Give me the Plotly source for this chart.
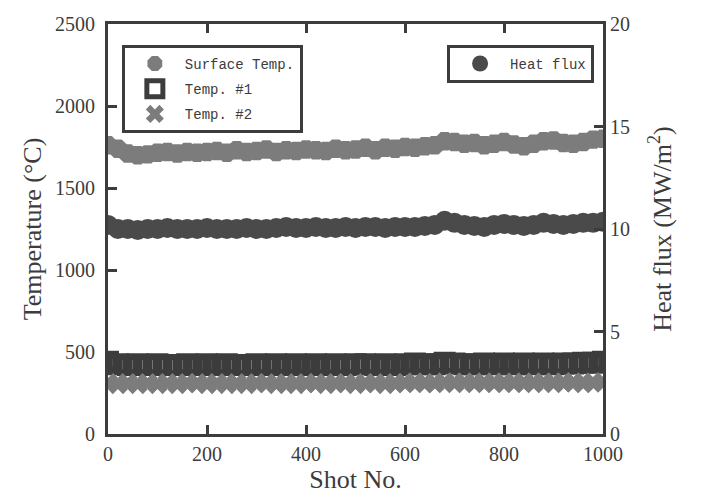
import plotly.graph_objects as go

shots = [0, 20, 40, 60, 80, 100, 120, 140, 160, 180, 200, 220, 240, 260, 280, 300,
         320, 340, 360, 380, 400, 420, 440, 460, 480, 500, 520, 540, 560, 580, 600,
         620, 640, 660, 680, 700, 720, 740, 760, 780, 800, 820, 840, 860, 880, 900,
         920, 940, 960, 980, 1000]

surface_temp = [1760, 1740, 1710, 1700, 1705, 1715, 1720, 1710, 1720, 1715, 1720,
                1725, 1715, 1730, 1720, 1725, 1735, 1720, 1730, 1725, 1735, 1730,
                1725, 1740, 1730, 1735, 1745, 1730, 1745, 1740, 1750, 1745, 1755,
                1760, 1785, 1780, 1770, 1775, 1760, 1770, 1780, 1765, 1755, 1770,
                1785, 1790, 1775, 1770, 1780, 1795, 1800]

temp1 = [440, 425, 420, 425, 420, 425, 420, 420, 425, 420, 425, 420, 425, 420,
         420, 425, 420, 425, 420, 425, 420, 425, 420, 425, 420, 425, 425, 420,
         425, 420, 425, 430, 425, 425, 435, 430, 425, 425, 430, 425, 430, 425,
         430, 425, 430, 425, 430, 430, 435, 435, 440]

temp2 = [310, 305, 310, 305, 310, 305, 310, 305, 310, 310, 305, 310, 305, 310,
         305, 310, 310, 305, 310, 305, 310, 310, 305, 310, 310, 305, 310, 310,
         305, 310, 310, 315, 310, 310, 315, 310, 315, 310, 315, 310, 315, 310,
         315, 310, 315, 310, 315, 315, 310, 315, 315]

heat_flux = [10.2, 10.0, 10.0, 9.95, 10.0, 10.0, 10.05, 10.0, 10.0, 10.0, 10.05,
             10.0, 10.0, 10.0, 10.05, 10.0, 10.0, 10.05, 10.1, 10.05, 10.05, 10.1,
             10.05, 10.05, 10.1, 10.05, 10.1, 10.1, 10.05, 10.1, 10.1, 10.1, 10.15,
             10.2, 10.4, 10.3, 10.2, 10.15, 10.1, 10.2, 10.25, 10.2, 10.15, 10.2,
             10.3, 10.25, 10.2, 10.25, 10.3, 10.3, 10.35]

x_ticks = [0, 200, 400, 600, 800, 1000]
y_ticks = [0, 500, 1000, 1500, 2000, 2500]
y2_ticks = [0, 5, 10, 15, 20]

INK = "#3c3c3c"
DOT = "#7c7c7c"
SERIF = "Liberation Serif"
MONO = "Liberation Mono"

fig = go.Figure()

fig.add_trace(go.Scatter(
    x=shots, y=surface_temp, mode="markers", name="Surface Temp.",
    marker=dict(symbol="octagon", size=20, color=DOT, line=dict(width=0)),
    legend="legend", legendgroup="g1"))
fig.add_trace(go.Scatter(
    x=shots, y=temp1, mode="markers", name="Temp. #1",
    marker=dict(symbol="square-open", size=16, color=INK, line=dict(width=6, color=INK)),
    legend="legend", legendgroup="g2"))
fig.add_trace(go.Scatter(
    x=shots, y=temp2, mode="markers", name="Temp. #2",
    marker=dict(symbol="x", size=18, color=DOT, line=dict(width=0)),
    legend="legend", legendgroup="g3"))
fig.add_trace(go.Scatter(
    x=shots, y=heat_flux, mode="markers", name="Heat flux", yaxis="y2",
    marker=dict(symbol="circle", size=20, color="#4a4a4a", line=dict(width=0)),
    legend="legend2"))

axis_common = dict(
    showline=True, linecolor=INK, linewidth=3, ticks="inside", ticklen=9,
    tickwidth=3, tickcolor=INK, showgrid=False, zeroline=False, automargin=False,
    tickfont=dict(family=SERIF, size=20, color=INK),
)

# page body has an 8px margin, so the figure is offset by 8px
fig.update_layout(
    width=693, height=487,
    margin=dict(l=100, r=98, t=16, b=61),
    paper_bgcolor="white", plot_bgcolor="white",
    showlegend=True,
    xaxis=dict(
        range=[0, 1000], tickvals=x_ticks, mirror="ticks",
        title=dict(text="Shot No.", font=dict(family=SERIF, size=26, color=INK), standoff=4),
        **axis_common),
    yaxis=dict(
        range=[0, 2500], tickvals=y_ticks, ticklabelstandoff=6,
        title=dict(text="Temperature (°C)", font=dict(family=SERIF, size=26, color=INK), standoff=6),
        **axis_common),
    yaxis2=dict(
        range=[0, 20], tickvals=y2_ticks, overlaying="y", side="right",
        title=dict(text="Heat flux (MW/m<sup>2</sup>)", font=dict(family=SERIF, size=26, color=INK), standoff=24),
        **axis_common),
    legend=dict(
        x=0.028, y=0.949, xanchor="left", yanchor="top",
        bgcolor="white", bordercolor=INK, borderwidth=3,
        font=dict(family=MONO, size=14, color=INK),
        itemwidth=50, tracegroupgap=4, traceorder="grouped"),
    legend2=dict(
        x=0.685, y=0.949, xanchor="left", yanchor="top",
        bgcolor="white", bordercolor=INK, borderwidth=3,
        font=dict(family=MONO, size=14, color=INK),
        itemwidth=50),
)

fig.write_html("out.html")
